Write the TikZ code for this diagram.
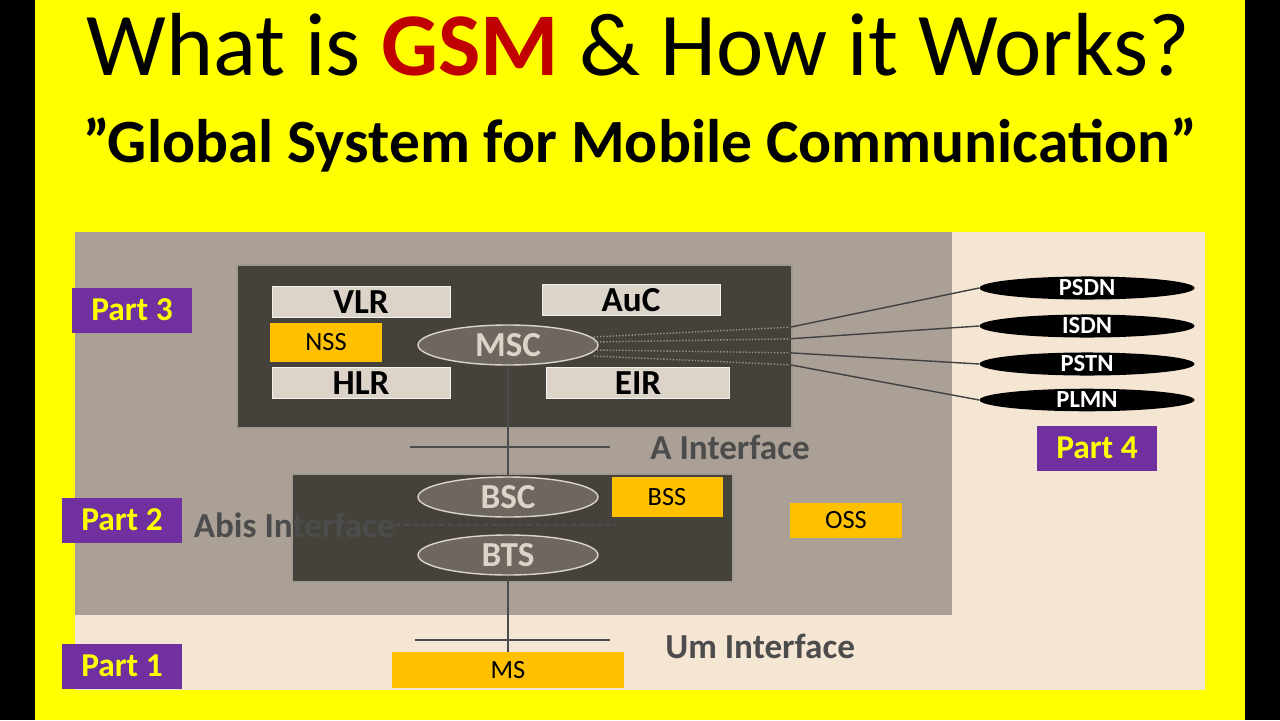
\documentclass[tikz,border=0pt]{standalone}
\usepackage{fontspec}
\setmainfont{Carlito}
\usetikzlibrary{positioning,shapes.geometric}
\definecolor{bgyellow}{HTML}{FFFF00}
\definecolor{panel}{HTML}{F5E6D4}
\definecolor{greyarea}{HTML}{ABA095}
\definecolor{darkbox}{HTML}{45413B}
\definecolor{lightbox}{HTML}{DCD3C9}
\definecolor{gold}{HTML}{FFC000}
\definecolor{partpurple}{HTML}{7030A0}
\definecolor{gsmred}{HTML}{C00000}
\definecolor{ovalgrey}{HTML}{6E675F}
\begin{document}
\begin{tikzpicture}[x=0.02cm,y=-0.02cm]
  \tikzstyle{unit}=[rectangle, fill=lightbox, draw=white!70!lightbox, font=\bfseries\fontsize{20}{20}\selectfont, inner sep=0pt]
  \tikzstyle{tag}=[rectangle, fill=gold, font=\fontsize{15}{15}\selectfont, inner sep=0pt]
  \tikzstyle{oval}=[ellipse, fill=ovalgrey, draw=lightbox, thick, text=lightbox, font=\bfseries\fontsize{20}{20}\selectfont, minimum width=3.6cm, minimum height=0.8cm, inner sep=0pt]
  \tikzstyle{net}=[ellipse, fill=black, text=white, font=\bfseries\fontsize{14}{14}\selectfont, minimum width=4.3cm, minimum height=0.45cm, inner sep=0pt]
  \tikzstyle{part}=[rectangle, fill=partpurple, text=bgyellow, font=\bfseries\fontsize{19}{19}\selectfont, minimum width=2.42cm, minimum height=0.9cm, inner sep=0pt]
  \tikzstyle{iface}=[font=\bfseries\fontsize{20}{20}\selectfont, text=black!70, anchor=west, inner sep=0pt]
  \tikzstyle{link}=[black!75, thick]

  % background
  \fill[black] (0,0) rectangle (1280,720);
  \fill[bgyellow] (35,0) rectangle (1245,720);
  \node[font=\fontsize{51}{51}\selectfont] (title) at (638,45) {What is \textcolor{gsmred}{\bfseries GSM} \& How it Works?};
  \node[font=\bfseries\fontsize{35}{35}\selectfont] (subtitle) at (640,145) {\symbol{34}Global System for Mobile Communication”};
  \fill[panel] (75,232) rectangle (1205,690);
  \fill[greyarea] (75,232) rectangle (952,615);

  % subsystems
  \node[fill=darkbox, draw=lightbox!60!darkbox, thick, minimum width=11.1cm, minimum height=3.26cm, inner sep=0pt] (nssbox) at (514.5,346.5) {};
  \node[fill=darkbox, draw=lightbox!60!darkbox, thick, minimum width=8.82cm, minimum height=2.16cm, inner sep=0pt] (bssbox) at (512.5,528) {};
  \node[unit, minimum width=3.56cm, minimum height=0.62cm] (vlr) at (361,302) {VLR};
  \node[unit, minimum width=3.56cm, minimum height=0.62cm] (auc) at (631,300) {AuC};
  \node[unit, minimum width=3.56cm, minimum height=0.62cm] (hlr) at (361,383) {HLR};
  \node[unit, minimum width=3.66cm, minimum height=0.62cm] (eir) at (638,383) {EIR};
  \node[tag, minimum width=2.26cm, minimum height=0.78cm] (nss) at (326,342) {NSS};
  \node[oval] (msc) at (508,345) {MSC};
  \node[oval] (bsc) at (508,497) {BSC};
  \node[oval] (bts) at (508,555) {BTS};
  \node[tag, minimum width=2.22cm, minimum height=0.8cm] (bss) at (667,497) {BSS};
  \node[tag, minimum width=2.24cm, minimum height=0.7cm] (oss) at (846,520) {OSS};
  \node[tag, minimum width=4.64cm, minimum height=0.72cm] (ms) at (508,670) {MS};

  % networks
  \foreach \name/\lbl/\yy/\sy in {psdn/PSDN/288/337, isdn/ISDN/326/342, pstn/PSTN/364/350, plmn/PLMN/400/356}{
    \node[net] (\name) at (1087,\yy) {\lbl};
    \coordinate (\name-mid) at (790,{\sy+(\yy-\sy)*0.2});
    \draw[lightbox!55!darkbox, thick, densely dotted] (msc.east) ++(-5,\sy-345) -- (\name-mid);
    \draw[link] (\name-mid) -- (\name.west);
  }

  % interfaces
  \draw[black!70, thick] (msc.south) -- (bsc.north);
  \draw[black!70, thick] (bts.south) -- (ms.north);
  \coordinate (aleft) at (410,447);
  \coordinate (aright) at (610,447);
  \draw[black!70, thick] (aleft) -- (aright);
  \node[iface] (alabel) at (650,447) {A Interface};
  \coordinate (abisleft) at (395,525);
  \coordinate (abisright) at (615,525);
  \draw[black!70, thick, densely dashed] (abisleft) -- (abisright);
  \node[iface, anchor=east] (abislabel) at (abisleft) {Abis Interface};
  \coordinate (umleft) at (415,640);
  \coordinate (umright) at (610,640);
  \draw[black!70, thick] (umleft) -- (umright);
  \node[iface] (umlabel) at (665,646) {Um Interface};

  % parts
  \node[part] (part3) at (132,310) {Part 3};
  \node[part] (part2) at (122,520) {Part 2};
  \node[part] (part1) at (122,666) {Part 1};
  \node[part, minimum width=2.4cm] (part4) at (1097,448) {Part 4};
\end{tikzpicture}
\end{document}
